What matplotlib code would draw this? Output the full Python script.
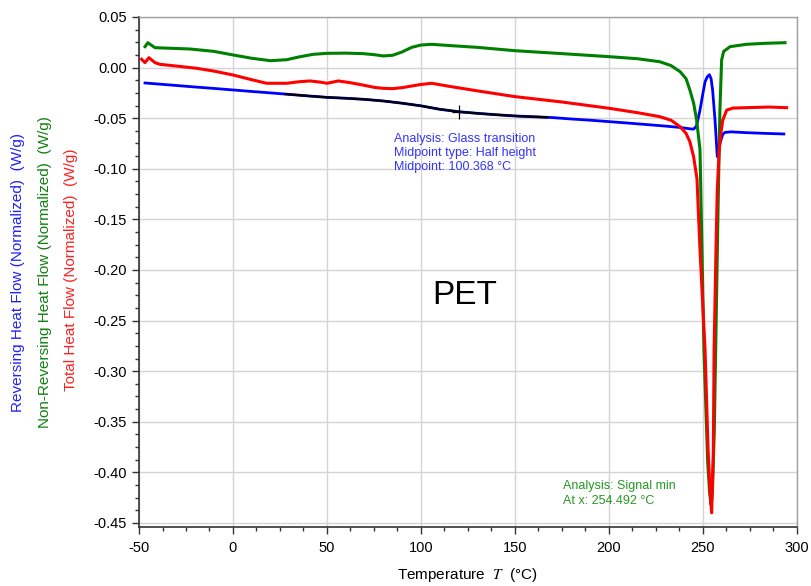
import matplotlib
matplotlib.use("Agg")
import matplotlib.pyplot as plt
from matplotlib.ticker import MultipleLocator, AutoMinorLocator, FormatStrFormatter

plt.rcParams['font.family'] = ['Liberation Sans', 'DejaVu Sans']
plt.rcParams['mathtext.fontset'] = 'stix'
plt.rcParams['axes.unicode_minus'] = False

# Reversing heat flow (blue)
rev_x = [-46.8, -40, -30, -20, -10, 0, 10, 20, 30, 40, 50, 60, 70, 80, 90, 100, 110, 120,
         130, 140, 150, 160, 170, 180, 190, 200, 210, 220, 230, 238, 243, 245, 246.5, 248.4,
         250, 251.1, 252.3, 253.4, 254.3, 255.1, 256.4, 257.6, 259, 260.5, 261.7, 265, 273,
         283, 293]
rev_y = [-0.0152, -0.0162, -0.0177, -0.0192, -0.0206, -0.0221, -0.0236, -0.0250, -0.0265,
         -0.0280, -0.0294, -0.0303, -0.0314, -0.0330, -0.0352, -0.0378, -0.0412, -0.0436,
         -0.0452, -0.0466, -0.0478, -0.0486, -0.0494, -0.0508, -0.0520, -0.0534, -0.0548,
         -0.0563, -0.0578, -0.0592, -0.0605, -0.0608, -0.0580, -0.0420, -0.0250, -0.0140,
         -0.0090, -0.0070, -0.0110, -0.0220, -0.0520, -0.0880, -0.0750, -0.0660, -0.0640,
         -0.0635, -0.0643, -0.0650, -0.0656]

# Glass transition analysis segment (black)
tg_x = [28, 40, 50, 60, 70, 80, 90, 100, 110, 120, 130, 140, 150, 160, 167]
tg_y = [-0.0262, -0.0280, -0.0294, -0.0303, -0.0314, -0.0330, -0.0352, -0.0378, -0.0412,
        -0.0436, -0.0452, -0.0466, -0.0478, -0.0486, -0.0491]
tg_mark_x = [120]
tg_mark_y = [-0.0436]

# Non-reversing heat flow (green)
nrev_x = [-46.8, -45.3, -43.5, -41.5, -35, -23, -10, 0, 10, 20, 28.6, 35, 42.6, 50, 60, 69,
          75, 80, 85, 90, 95, 100, 105.7, 115, 130, 150, 175, 200, 215, 227, 233, 237.8, 241,
          243, 245, 246.6, 248.4, 250.5, 252.5, 253.5, 254.3, 255, 256, 257, 258, 259, 259.9,
          261, 264.4, 273, 283, 293.6]
nrev_y = [0.0207, 0.0246, 0.0222, 0.0197, 0.0192, 0.0184, 0.0160, 0.0125, 0.0092, 0.0068,
          0.0078, 0.0105, 0.0131, 0.0141, 0.0143, 0.0138, 0.0128, 0.0115, 0.0122, 0.0155,
          0.0200, 0.0223, 0.0230, 0.0218, 0.0200, 0.0167, 0.0138, 0.0108, 0.0088, 0.0058,
          0.0020, -0.0040, -0.0110, -0.0221, -0.0350, -0.0518, -0.0810, -0.2790, -0.3900,
          -0.4200, -0.4320, -0.4200, -0.3600, -0.2500, -0.1400, -0.0420, 0.0075, 0.0160,
          0.0207, 0.0230, 0.0240, 0.0246]

# Total heat flow (red)
tot_x = [-48.6, -46.8, -44.7, -41.5, -38.8, -30, -19.3, -10, 0, 10, 17.9, 28.6, 35, 41, 47,
         50, 56, 62, 69, 75, 79.8, 85, 90, 99.5, 105.7, 115, 130, 150, 175, 200, 215, 227,
         233, 237.8, 241, 243, 245, 246.8, 248.4, 251.1, 252.7, 253.8, 254.6, 255.5, 255.9,
         256.9, 257.6, 258.6, 259.5, 260.5, 262.6, 266, 275, 285, 294.5]
tot_y = [0.0082, 0.0049, 0.0098, 0.0049, 0.0032, 0.0015, -0.0007, -0.0035, -0.0073, -0.0120,
         -0.0155, -0.0155, -0.0140, -0.0132, -0.0145, -0.0155, -0.0132, -0.0148, -0.0172,
         -0.0195, -0.0205, -0.0208, -0.0198, -0.0168, -0.0155, -0.0185, -0.0230, -0.0287,
         -0.0340, -0.0402, -0.0445, -0.0485, -0.0520, -0.0584, -0.0650, -0.0732, -0.0880,
         -0.1100, -0.1800, -0.2790, -0.3780, -0.4200, -0.4400, -0.3780, -0.2790, -0.1800,
         -0.1200, -0.0820, -0.0650, -0.0520, -0.0420, -0.0400, -0.0395, -0.0390, -0.0396]

x_ticks = [-50, 0, 50, 100, 150, 200, 250, 300]
y_ticks = [0.05, 0.00, -0.05, -0.10, -0.15, -0.20, -0.25, -0.30, -0.35, -0.40, -0.45]

fig = plt.figure(figsize=(8.12, 5.86), dpi=100)
ax = fig.add_axes([139/812, 1-527/586, (797-139)/812, (527-17)/586])

ax.plot(rev_x, rev_y, color='#0000ff', lw=2.0, zorder=3)
ax.plot(nrev_x, nrev_y, color='#008000', lw=2.2, zorder=4)
ax.plot(tot_x, tot_y, color='#ff0000', lw=2.2, zorder=5)
ax.plot(tg_x, tg_y, color='black', lw=1.6, zorder=6)
ax.plot(tg_mark_x, tg_mark_y, marker='+', color='black', ms=10, mew=0.9, ls='none', zorder=7)

ax.set_xlim(-50, 300)
ax.set_ylim(-0.454, 0.05)
ax.set_xticks(x_ticks)
ax.set_yticks(y_ticks)
ax.yaxis.set_major_formatter(FormatStrFormatter('%.2f'))
ax.xaxis.set_minor_locator(AutoMinorLocator(4))
ax.yaxis.set_minor_locator(AutoMinorLocator(4))
ax.tick_params(axis='both', which='major', direction='out', length=5, width=1,
               labelsize=10.5, colors='#333333', labelcolor='black')
ax.tick_params(axis='x', which='major', pad=5)
ax.tick_params(axis='both', which='minor', direction='out', length=3, width=1, colors='#333333')
ax.grid(True, which='major', color='#d4d4d4', lw=1.0, zorder=0)
ax.set_axisbelow(True)
for s in ['left', 'bottom']:
    ax.spines[s].set_color('#333333')
    ax.spines[s].set_linewidth(1.2)
for s in ['right', 'top']:
    ax.spines[s].set_color('#a0a0a0')
    ax.spines[s].set_linewidth(1.0)

ax.set_xlabel('Temperature  $\\mathit{T}$  (°C)', fontsize=11, labelpad=8)

fig.text(18/812, 1-272/586, 'Reversing Heat Flow (Normalized)  (W/g)', rotation=90,
         color='#2020ff', fontsize=11, ha='center', va='center')
fig.text(45/812, 1-272/586, 'Non-Reversing Heat Flow (Normalized)  (W/g)', rotation=90,
         color='#108010', fontsize=11, ha='center', va='center')
fig.text(71/812, 1-270/586, 'Total Heat Flow (Normalized)  (W/g)', rotation=90,
         color='#ff2020', fontsize=11, ha='center', va='center')

ax.text(85.6, -0.0645, 'Analysis: Glass transition\nMidpoint type: Half height\nMidpoint: 100.368 °C',
        color='#3333ff', fontsize=9, ha='left', va='top', linespacing=1.25)
ax.text(175.5, -0.408, 'Analysis: Signal min\nAt x: 254.492 °C',
        color='#229922', fontsize=9, ha='left', va='top', linespacing=1.25)
ax.text(123.4, -0.225, 'PET', color='black', fontsize=24, ha='center', va='center')

fig.savefig('out.png', dpi=100)
